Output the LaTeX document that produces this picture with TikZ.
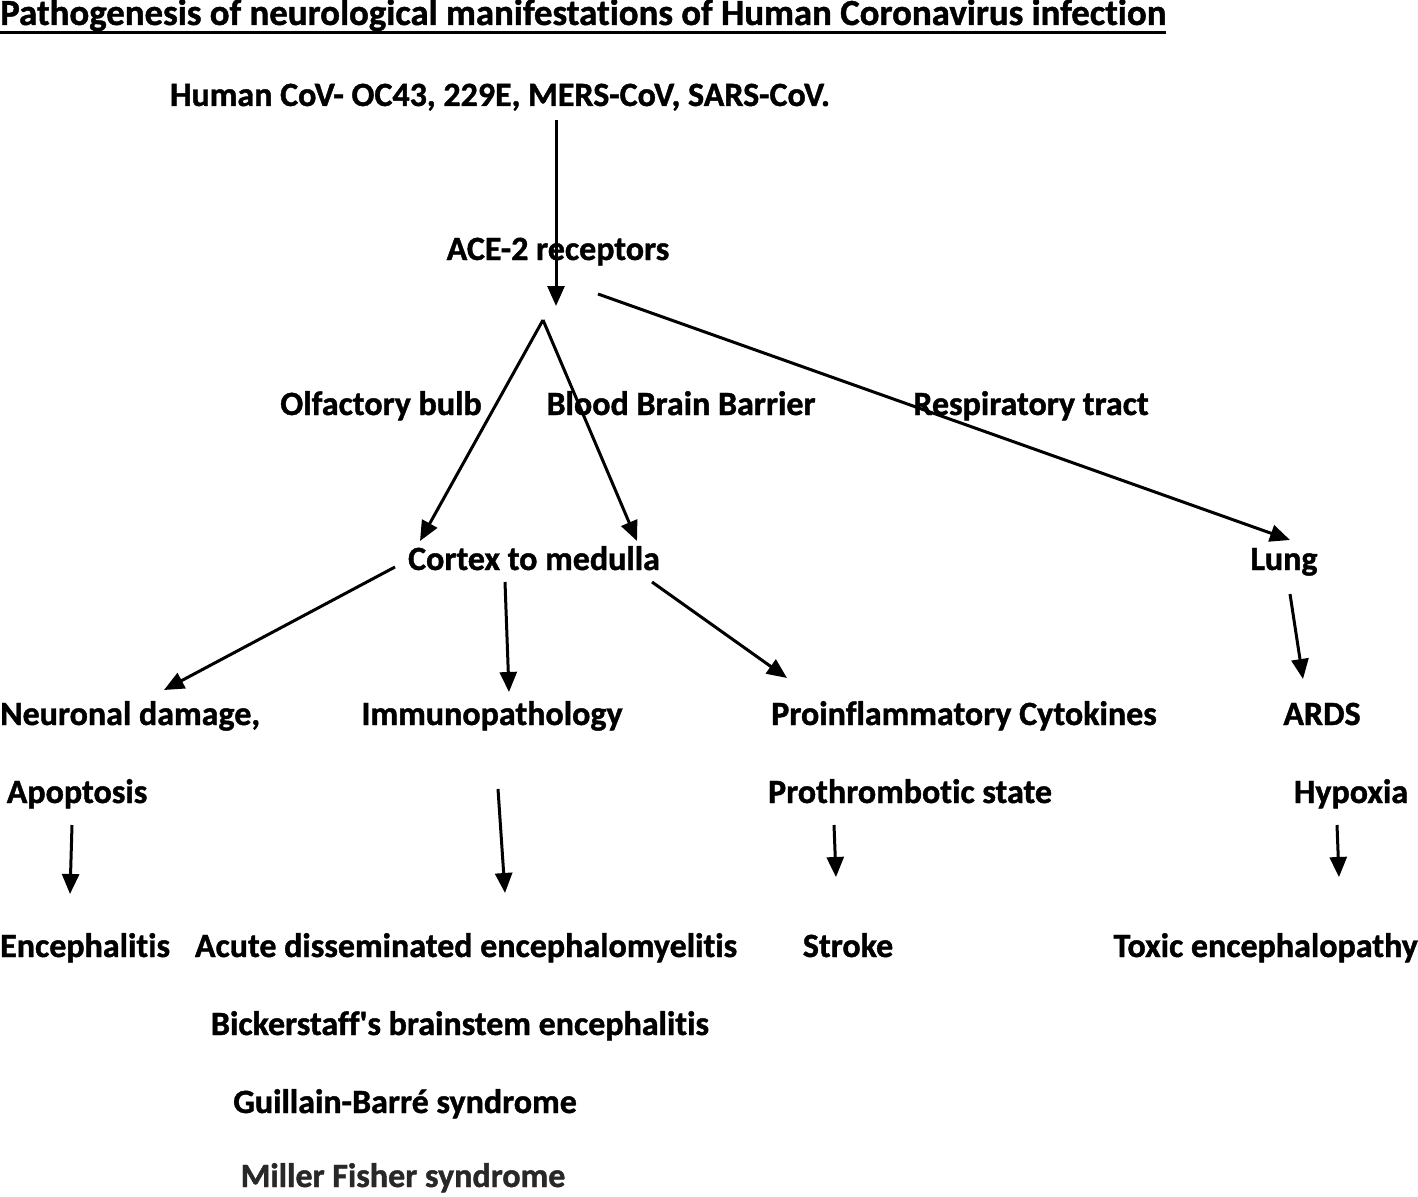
\documentclass[tikz,border=0pt]{standalone}
\usepackage{fontspec}
\setmainfont[RawFeature=-liga, BoldFeatures={FakeBold=1.2}]{Carlito}
\usetikzlibrary{arrows.meta}
\definecolor{mfgray}{RGB}{40,40,40}
\tikzset{
  lbl/.style={font=\bfseries\fontsize{34}{40}\selectfont, inner sep=0pt, anchor=base},
  ttl/.style={font=\bfseries\fontsize{36.8}{40}\selectfont, inner sep=0pt, anchor=base west},
  arr/.style={line width=3pt, -{Triangle[length=20pt,width=17pt]}},
  ln/.style={line width=3pt}
}
\begin{document}
\begin{tikzpicture}[x=1pt,y=-1pt]
\useasboundingbox (0,0) rectangle (1418,1196);
% title
\node[ttl] (title) at (0,25) {Pathogenesis of neurological manifestations of Human Coronavirus infection};
\draw[line width=3pt] ([yshift=-8pt]title.base west) -- ([yshift=-8pt]title.base east);
% nodes
\node[lbl] (hcov) at (500,106) {Human CoV- OC43, 229E, MERS-CoV, SARS-CoV.};
\node[lbl] (ace) at (558,260) {ACE-2 receptors};
\node[lbl] (olf) at (381,415) {Olfactory bulb};
\node[lbl] (bbb) at (681,415) {Blood Brain Barrier};
\node[lbl] (resp) at (1031,415) {Respiratory tract};
\node[lbl] (ctm) at (534,570) {Cortex to medulla};
\node[lbl] (lung) at (1284,570) {Lung};
\node[lbl, anchor=base west] (neur) at (0,725) {Neuronal damage,};
\node[lbl] (immu) at (492,725) {Immunopathology};
\node[lbl] (proi) at (964,725) {Proinflammatory Cytokines};
\node[lbl] (ards) at (1322,725) {ARDS};
\node[lbl] (apop) at (77,803) {Apoptosis};
\node[lbl] (prot) at (910,803) {Prothrombotic state};
\node[lbl] (hypo) at (1351,803) {Hypoxia};
\node[lbl, anchor=base west] (ence) at (0,957) {Encephalitis};
\node[lbl] (adem) at (466,957) {Acute disseminated encephalomyelitis};
\node[lbl] (strk) at (848,957) {Stroke};
\node[lbl, anchor=base east] (toxi) at (1418,957) {Toxic encephalopathy};
\node[lbl] (bick) at (460,1035) {Bickerstaff\textquotesingle s brainstem encephalitis};
\node[lbl] (guil) at (405,1113) {Guillain-Barré syndrome};
\node[lbl, text=mfgray] (mill) at (403,1187) {Miller Fisher syndrome};
% connector endpoints
\coordinate (c1s) at (556,120);  \coordinate (c1e) at (556,306);
\coordinate (apex) at (543,320);
\coordinate (c2e) at (420,541);  \coordinate (c3e) at (637,541);
\coordinate (c4s) at (598,294);  \coordinate (c4e) at (1290,540);
\coordinate (c5s) at (395,567);  \coordinate (c5e) at (164,690);
\coordinate (c6s) at (505,582);  \coordinate (c6e) at (509,692);
\coordinate (c7s) at (652,582);  \coordinate (c7e) at (787,678);
\coordinate (c8s) at (1290,594); \coordinate (c8e) at (1303,679);
\coordinate (c9s) at (72,825);   \coordinate (c9e) at (70,894);
\coordinate (c10s) at (498,789); \coordinate (c10e) at (505,893);
\coordinate (c11s) at (834,825); \coordinate (c11e) at (836,877);
\coordinate (c12s) at (1337,825);\coordinate (c12e) at (1339,877);
% connectors
\draw[arr] (c1s) -- (c1e);
\draw[arr] (apex) -- (c2e);
\draw[arr] (apex) -- (c3e);
\draw[arr] (c4s) -- (c4e);
\draw[arr] (c5s) -- (c5e);
\draw[arr] (c6s) -- (c6e);
\draw[arr] (c7s) -- (c7e);
\draw[arr] (c8s) -- (c8e);
\draw[arr] (c9s) -- (c9e);
\draw[arr] (c10s) -- (c10e);
\draw[arr] (c11s) -- (c11e);
\draw[arr] (c12s) -- (c12e);
\end{tikzpicture}
\end{document}
